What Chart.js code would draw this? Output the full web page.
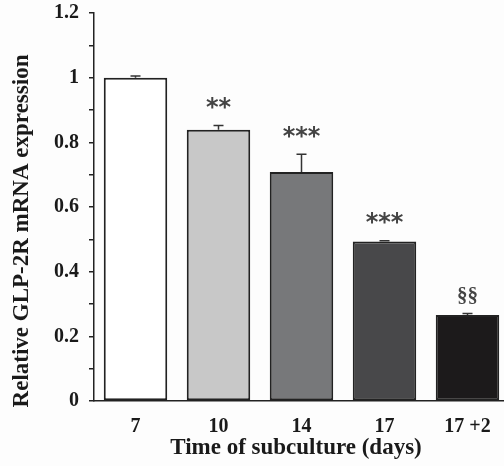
<!DOCTYPE html>
<html>
<head>
<meta charset="utf-8">
<script src="https://cdn.jsdelivr.net/npm/chart.js@4"></script>
<style>
  html, body { margin: 0; padding: 0; background: #fdfdfd; overflow: hidden; }
  #wrap { width: 509px; height: 466px; }
</style>
</head>
<body>
<div id="wrap"><canvas id="chart"></canvas></div>
<script>
const days = ['7', '10', '14', '17', '17 +2'];
const expression = [1.0, 0.839, 0.708, 0.493, 0.266];
const errors = [0.005, 0.013, 0.055, 0.003, 0.005];
const marks = ['', '**', '***', '***', '§§'];
const barColors = ['#ffffff', '#c8c8c8', '#77787a', '#48484a', '#1c1a1b'];
const yTicks = [0, 0.2, 0.4, 0.6, 0.8, 1, 1.2];

const serif = '"Liberation Serif", "Times New Roman", serif';

const extras = {
  id: 'extras',
  afterDatasetsDraw(chart) {
    const ctx = chart.ctx;
    const y = chart.scales.y;
    const meta = chart.getDatasetMeta(0);
    ctx.save();
    meta.data.forEach((bar, i) => {
      const top = y.getPixelForValue(expression[i] + errors[i]);
      ctx.strokeStyle = '#333';
      ctx.lineWidth = 1.5;
      ctx.beginPath();
      ctx.moveTo(bar.x, bar.y);
      ctx.lineTo(bar.x, top);
      ctx.moveTo(bar.x - 5, top);
      ctx.lineTo(bar.x + 5, top);
      ctx.stroke();
      if (marks[i]) {
        ctx.fillStyle = '#444';
        ctx.textAlign = 'center';
        ctx.textBaseline = 'middle';
        if (marks[i].includes('*')) {
          ctx.font = 'bold 24px "DejaVu Sans"';
          ctx.fillText(marks[i], bar.x, top - 17);
        } else {
          ctx.font = 'bold 21px ' + serif;
          ctx.fillText(marks[i], bar.x, top - 17);
        }
      }
    });
    // axis titles
    ctx.fillStyle = '#1a1a1a';
    ctx.textAlign = 'center';
    ctx.textBaseline = 'middle';
    ctx.font = 'bold 23px ' + serif;
    ctx.fillText('Time of subculture (days)', 296, 448);
    ctx.translate(22, 231);
    ctx.rotate(-Math.PI / 2);
    ctx.fillText('Relative GLP-2R mRNA expression', 0, 0);
    ctx.restore();
  }
};

new Chart(document.getElementById('chart').getContext('2d'), {
  type: 'bar',
  data: {
    labels: days,
    datasets: [{
      data: expression,
      backgroundColor: barColors,
      borderColor: '#222',
      borderWidth: 2,
      borderSkipped: false,
      categoryPercentage: 1,
      barPercentage: 0.765
    }]
  },
  options: {
    responsive: true,
    maintainAspectRatio: false,
    animation: false,
    layout: { padding: { top: 13, right: 0, left: 0, bottom: 0 } },
    plugins: { legend: { display: false }, tooltip: { enabled: false } },
    scales: {
      x: {
        grid: { display: false },
        border: { display: true, color: '#222', width: 1.5 },
        ticks: { color: '#1a1a1a', padding: 6, font: { family: serif, size: 20, weight: 'bold' } },
        afterFit(scale) { scale.height = 65; }
      },
      y: {
        min: 0,
        max: 1.2,
        afterBuildTicks(scale) {
          const t = [];
          for (let i = 0; i <= 12; i++) t.push({ value: i / 10 });
          scale.ticks = t;
        },
        grid: { drawOnChartArea: false, drawTicks: true, tickLength: 5, color: '#222', lineWidth: 1.5 },
        border: { display: true, color: '#222', width: 1.5 },
        ticks: {
          color: '#1a1a1a',
          padding: 10,
          font: { family: serif, size: 20, weight: 'bold' },
          callback(v) {
            const r = Math.round(v * 10);
            if (r % 2) return '';
            const found = yTicks.find(t => Math.round(t * 10) === r);
            return String(found);
          }
        },
        afterFit(scale) {
          scale.width = 94;
          scale.paddingTop = 0;
          scale.paddingBottom = 0;
        }
      }
    }
  },
  plugins: [extras]
});
</script>
</body>
</html>
